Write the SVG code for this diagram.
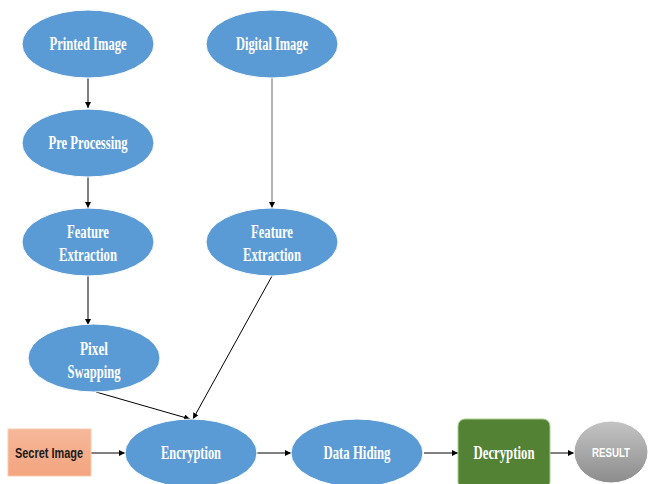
<svg xmlns="http://www.w3.org/2000/svg" width="649" height="484" viewBox="0 0 649 484">
<defs>
<marker id="ah" viewBox="0 0 10 10" refX="10" refY="5" markerWidth="6" markerHeight="6" orient="auto" markerUnits="userSpaceOnUse"><path d="M0,0 L10,5 L0,10 z" fill="#000"/></marker>
<linearGradient id="sal" x1="0" y1="0" x2="0" y2="1"><stop offset="0" stop-color="#f6b89a"/><stop offset="1" stop-color="#f3a47e"/></linearGradient>
<linearGradient id="gry" x1="0" y1="0" x2="0" y2="1"><stop offset="0" stop-color="#c4c4c4"/><stop offset="1" stop-color="#8c8c8c"/></linearGradient>
</defs>
<style>
.n{fill:#5b9bd5;stroke:#ffffff;stroke-width:1}
.t{font-family:"Liberation Serif",serif;font-weight:bold;font-size:18px;fill:#ffffff;text-anchor:middle}
.c{stroke:#000;stroke-width:1;fill:none;marker-end:url(#ah)}
</style>
<rect width="649" height="484" fill="#ffffff"/>
<g id="connectors">
<line class="c" x1="88" y1="78" x2="88" y2="108"/>
<line class="c" x1="88" y1="177" x2="88" y2="208"/>
<line class="c" x1="272" y1="78" x2="272" y2="208" style="stroke:#666"/>
<line class="c" x1="88" y1="276" x2="88" y2="325"/>
<line class="c" x1="96" y1="392" x2="190" y2="419"/>
<line class="c" x1="272" y1="276" x2="193" y2="419"/>
<line class="c" x1="91" y1="453" x2="125" y2="453"/>
<line class="c" x1="257" y1="453" x2="291" y2="453"/>
<line class="c" x1="424" y1="453" x2="458" y2="453"/>
<line class="c" x1="550" y1="453" x2="574" y2="453"/>
</g>
<g id="printed"><ellipse class="n" cx="88" cy="44" rx="66" ry="34"/><text class="t" x="88" y="50" textLength="77" lengthAdjust="spacingAndGlyphs">Printed Image</text></g>
<g id="digital"><ellipse class="n" cx="272" cy="44" rx="66" ry="34"/><text class="t" x="272" y="50" textLength="72" lengthAdjust="spacingAndGlyphs">Digital Image</text></g>
<g id="preproc"><ellipse class="n" cx="88" cy="143" rx="66" ry="34"/><text class="t" x="88" y="149" textLength="79" lengthAdjust="spacingAndGlyphs">Pre Processing</text></g>
<g id="feat1"><ellipse class="n" cx="88" cy="242" rx="66" ry="34"/><text class="t" x="88" y="238" textLength="42" lengthAdjust="spacingAndGlyphs">Feature</text><text class="t" x="88" y="261" textLength="58" lengthAdjust="spacingAndGlyphs">Extraction</text></g>
<g id="feat2"><ellipse class="n" cx="272" cy="242" rx="66" ry="34"/><text class="t" x="272" y="238" textLength="42" lengthAdjust="spacingAndGlyphs">Feature</text><text class="t" x="272" y="261" textLength="58" lengthAdjust="spacingAndGlyphs">Extraction</text></g>
<g id="pixel"><ellipse class="n" cx="94" cy="358" rx="66" ry="34"/><text class="t" x="94" y="355" textLength="28" lengthAdjust="spacingAndGlyphs">Pixel</text><text class="t" x="94" y="378" textLength="53" lengthAdjust="spacingAndGlyphs">Swapping</text></g>
<g id="secret"><rect x="8" y="429" width="83" height="47" fill="url(#sal)" stroke="#f8cbad" stroke-width="1"/><text x="49" y="458" font-family="'Liberation Sans',sans-serif" font-weight="bold" font-size="15" fill="#1a1a1a" text-anchor="middle" textLength="68" lengthAdjust="spacingAndGlyphs">Secret Image</text></g>
<g id="encryption"><ellipse class="n" cx="191" cy="453" rx="66" ry="34"/><text class="t" x="191" y="459" textLength="60" lengthAdjust="spacingAndGlyphs">Encryption</text></g>
<g id="datahiding"><ellipse class="n" cx="357" cy="453" rx="66" ry="34"/><text class="t" x="357" y="459" textLength="67" lengthAdjust="spacingAndGlyphs">Data Hiding</text></g>
<g id="decryption"><rect x="458" y="419" width="92" height="70" rx="7" fill="#548235" stroke="#a9d18e" stroke-width="1"/><text class="t" x="504" y="459" textLength="61" lengthAdjust="spacingAndGlyphs">Decryption</text></g>
<g id="result"><ellipse cx="611" cy="452" rx="37" ry="31" fill="url(#gry)" stroke="#ffffff"/><text x="611" y="457" font-family="'Liberation Sans',sans-serif" font-weight="bold" font-size="13" fill="#ffffff" text-anchor="middle" textLength="38" lengthAdjust="spacingAndGlyphs">RESULT</text></g>
</svg>
